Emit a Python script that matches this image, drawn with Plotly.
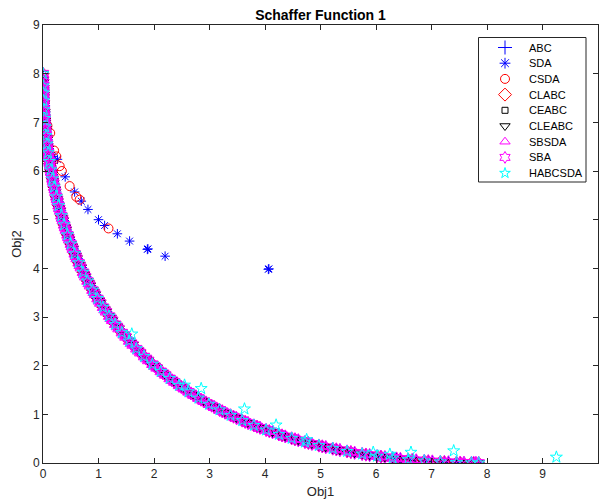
import plotly.graph_objects as go

# Pareto front samples (set A)
front_a_obj1 = [0.000, 0.002, 0.005, 0.010, 0.018, 0.028, 0.040, 0.055, 0.072, 0.092, 0.115, 0.14, 0.17, 0.20,
                0.24, 0.28, 0.33, 0.38, 0.44, 0.50, 0.57, 0.64, 0.72, 0.80, 0.89, 0.98, 1.08, 1.19, 1.30, 1.42,
                1.55, 1.68, 1.82, 1.97, 2.12, 2.28, 2.45, 2.62, 2.80, 2.99, 3.18, 3.38, 3.59, 3.80, 4.02, 4.25,
                4.48, 4.72, 4.97, 5.22, 5.48, 5.75, 6.02, 6.30, 6.58, 6.87, 7.16, 7.45, 7.72, 7.85]
front_a_obj2 = [8.000, 7.749, 7.605, 7.444, 7.259, 7.081, 6.909, 6.728, 6.554, 6.376, 6.197, 6.023, 5.838, 5.670,
                5.469, 5.287, 5.080, 4.893, 4.688, 4.500, 4.299, 4.115, 3.920, 3.740, 3.553, 3.380, 3.201, 3.019,
                2.850, 2.679, 2.507, 2.348, 2.188, 2.030, 1.883, 1.738, 1.596, 1.464, 1.334, 1.208, 1.092, 0.980,
                0.872, 0.773, 0.678, 0.588, 0.507, 0.430, 0.359, 0.296, 0.238, 0.185, 0.140, 0.101, 0.069, 0.043,
                0.023, 0.009, 0.002, 0.001]

# Pareto front samples (set B)
front_b_obj1 = [0.001, 0.0035, 0.0075, 0.014, 0.023, 0.034, 0.047, 0.063, 0.082, 0.103, 0.127, 0.155, 0.185, 0.22,
                0.26, 0.305, 0.355, 0.41, 0.47, 0.535, 0.605, 0.68, 0.76, 0.845, 0.935, 1.03, 1.135, 1.245, 1.36,
                1.485, 1.615, 1.75, 1.895, 2.045, 2.2, 2.365, 2.535, 2.71, 2.895, 3.085, 3.28, 3.485, 3.695, 3.91,
                4.135, 4.365, 4.6, 4.845, 5.095, 5.35, 5.615, 5.885, 6.16, 6.44, 6.725, 7.015, 7.305, 7.585, 7.8]
front_b_obj2 = [7.822, 7.669, 7.518, 7.345, 7.165, 6.991, 6.821, 6.643, 6.462, 6.288, 6.111, 5.928, 5.752, 5.567,
                5.376, 5.181, 4.985, 4.788, 4.592, 4.397, 4.205, 4.015, 3.828, 3.645, 3.465, 3.289, 3.108, 2.933,
                2.763, 2.591, 2.426, 2.267, 2.108, 1.956, 1.810, 1.665, 1.528, 1.398, 1.270, 1.149, 1.035, 0.925,
                0.821, 0.724, 0.632, 0.546, 0.467, 0.393, 0.326, 0.266, 0.210, 0.162, 0.120, 0.084, 0.055, 0.032,
                0.015, 0.005, 0.001]

# Pareto front samples (set C)
front_c_obj1 = [0.0005, 0.0028, 0.0062, 0.012, 0.0205, 0.031, 0.0435, 0.059, 0.077, 0.0975, 0.121, 0.1475, 0.1775,
                0.21, 0.25, 0.2925, 0.3425, 0.395, 0.455, 0.5175, 0.5875, 0.66, 0.74, 0.8225, 0.9125, 1.005, 1.1075,
                1.2175, 1.33, 1.4525, 1.5825, 1.715, 1.8575, 2.0075, 2.16, 2.3225, 2.4925, 2.665, 2.8475, 3.0375,
                3.23, 3.4325, 3.6425, 3.855, 4.0775, 4.3075, 4.54, 4.7825, 5.0325, 5.285, 5.5475, 5.8175, 6.09,
                6.37, 6.6525, 6.9425, 7.2325, 7.5175, 7.76]
front_c_obj2 = [7.874, 7.704, 7.561, 7.392, 7.211, 7.035, 6.864, 6.685, 6.507, 6.331, 6.153, 5.975, 5.794, 5.618,
                5.422, 5.233, 5.032, 4.840, 4.639, 4.448, 4.252, 4.064, 3.874, 3.692, 3.509, 3.334, 3.154, 2.976,
                2.806, 2.635, 2.466, 2.307, 2.148, 1.993, 1.846, 1.701, 1.562, 1.430, 1.302, 1.179, 1.064, 0.952,
                0.846, 0.748, 0.655, 0.567, 0.487, 0.411, 0.342, 0.280, 0.224, 0.173, 0.130, 0.093, 0.062, 0.037,
                0.020, 0.008, 0.002]

sda_obj1 = [0.02, 0.10, 0.18, 0.26, 0.40, 0.57, 0.69, 0.81, 1.00, 1.11, 1.34, 1.56, 1.88, 1.89, 2.20, 4.06, 4.07]
sda_obj2 = [7.40, 6.45, 6.30, 6.24, 5.88, 5.57, 5.38, 5.21, 5.00, 4.88, 4.71, 4.56, 4.39, 4.40, 4.25, 3.98, 3.99]

csda_obj1 = [0.03, 0.08, 0.13, 0.20, 0.24, 0.30, 0.34, 0.48, 0.60, 0.66, 1.18]
csda_obj2 = [7.00, 6.93, 6.78, 6.42, 6.30, 6.10, 6.00, 5.69, 5.47, 5.41, 4.82]

habc_out_obj1 = [1.60, 2.55, 2.85, 3.63, 4.20, 4.75, 5.95, 6.25, 6.63, 7.40, 9.25]
habc_out_obj2 = [2.65, 1.60, 1.53, 1.11, 0.78, 0.48, 0.22, 0.18, 0.22, 0.25, 0.12]

names = ["ABC", "SDA", "CSDA", "CLABC", "CEABC", "CLEABC", "SBSDA", "SBA", "HABCSDA"]
symbols = ["cross-thin-open", "asterisk-open", "circle-open", "diamond-open", "square-open",
           "triangle-down-open", "triangle-up-open", "hexagram-open", "star-open"]
colors = ["#0000ff", "#0000ff", "#ff0000", "#ff0000", "#000000", "#000000", "#ff00ff", "#ff00ff", "#00ffff"]
sizes = [9, 8, 9, 9, 6, 10, 9, 10, 9]
legend_sizes = [10, 9, 9, 10, 6, 9, 9, 9, 8]

fx_all = front_a_obj1 + front_b_obj1 + front_c_obj1
fy_all = front_a_obj2 + front_b_obj2 + front_c_obj2
fx_ac = front_a_obj1 + front_c_obj1
fy_ac = front_a_obj2 + front_c_obj2
fx_bc = front_b_obj1 + front_c_obj1
fy_bc = front_b_obj2 + front_c_obj2
data_x = [fx_all, sda_obj1, csda_obj1, fx_ac, fx_bc, fx_all, fx_all, fx_all, front_a_obj1 + habc_out_obj1]
data_y = [fy_all, sda_obj2, csda_obj2, fy_ac, fy_bc, fy_all, fy_all, fy_all, front_a_obj2 + habc_out_obj2]

FONT = "Liberation Sans, Arial, sans-serif"
fig = go.Figure()
for n, s, c, sz, xs, ys in zip(names, symbols, colors, sizes, data_x, data_y):
    fig.add_trace(go.Scatter(x=xs, y=ys, mode="markers", name=n, showlegend=False,
                             marker=dict(symbol=s, size=sz, color=c, line=dict(color=c, width=1))))

# ---- custom legend on a pixel-scaled overlay axis pair ----
L, R, T, B = 43, 598, 25, 463          # plot area in pixels
box_l, box_r, box_t, box_b = 478.5, 586, 37.5, 182
row0, row_step = 47.5, 15.7
sym_x, txt_x = 505, 527
fig.add_trace(go.Scatter(x=[box_l, box_r, box_r, box_l, box_l], y=[box_t, box_t, box_b, box_b, box_t],
                         xaxis="x2", yaxis="y2", mode="lines", fill="toself", fillcolor="white",
                         line=dict(color="#262626", width=1), showlegend=False, hoverinfo="skip"))
for i, (n, s, c, lsz) in enumerate(zip(names, symbols, colors, legend_sizes)):
    yy = row0 + i * row_step
    fig.add_trace(go.Scatter(x=[sym_x], y=[yy], xaxis="x2", yaxis="y2", mode="markers",
                             marker=dict(symbol=s, size=lsz, color=c, line=dict(color=c, width=1)),
                             showlegend=False, hoverinfo="skip"))
    fig.add_annotation(x=txt_x, y=yy, xref="x2", yref="y2", text=n, showarrow=False,
                       xanchor="left", yanchor="middle",
                       font=dict(family=FONT, size=11, color="#000000"))

axis_common = dict(showgrid=False, zeroline=False, showline=True, linecolor="#262626", linewidth=1,
                   mirror="ticks", ticks="inside", ticklen=5, tickcolor="#262626",
                   tickfont=dict(family=FONT, size=12, color="#262626"))

fig.update_layout(
    width=599, height=504,
    margin=dict(l=L, r=599 - R, t=T, b=504 - B),
    paper_bgcolor="white", plot_bgcolor="white",
    title=dict(text="<b>Schaffer Function 1</b>", x=(L + R) / 2 / 599, xanchor="center",
               y=1 - 15 / 504, yanchor="middle", yref="container",
               font=dict(family=FONT, size=14, color="#000000")),
    xaxis=dict(range=[0, 10], dtick=1, title=dict(text="Obj1", standoff=6,
               font=dict(family=FONT, size=13, color="#262626")), **axis_common),
    yaxis=dict(range=[0, 9], dtick=1, title=dict(text="Obj2", standoff=8,
               font=dict(family=FONT, size=13, color="#262626")), **axis_common),
    xaxis2=dict(overlaying="x", anchor="y2", range=[L, R], visible=False, fixedrange=True),
    yaxis2=dict(overlaying="y", anchor="x2", range=[B, T], visible=False, fixedrange=True),
    showlegend=False,
)

fig.write_html("out.html")
